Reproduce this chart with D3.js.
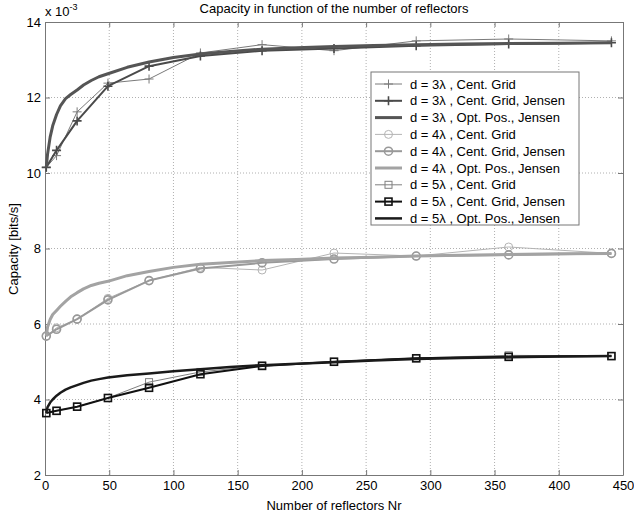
<!DOCTYPE html>
<html>
<head>
<meta charset="utf-8">
<script src="https://cdn.jsdelivr.net/npm/d3@7"></script>
<style>
  body { margin: 0; background: #fff; }
  svg { font-family: "Liberation Sans", Arial, sans-serif; }
</style>
</head>
<body>
<svg id="chart" width="634" height="518"></svg>
<script>
// grid positions (number of reflectors, N x N)
var gridNr = [1, 9, 25, 49, 81, 121, 169, 225, 289, 361, 441];
// optimised positions evaluated more densely
var optNr = [1, 2, 4, 6, 9, 12, 16, 20, 25, 30, 36, 42, 49, 64, 81, 100, 121, 144, 169, 196, 225, 256, 289, 324, 361, 400, 441];

// capacities, in units of 1e-3
var d3Grid   = [10.15, 10.46, 11.62, 12.38, 12.49, 13.18, 13.4, 13.24, 13.5, 13.55, 13.5];
var d3Jensen = [10.15, 10.6, 11.38, 12.3, 12.83, 13.1, 13.24, 13.3, 13.37, 13.42, 13.45];
var d3Opt    = [10.15, 10.5, 10.95, 11.25, 11.55, 11.78, 11.97, 12.08, 12.2, 12.33, 12.45, 12.55, 12.63, 12.8, 12.94, 13.06, 13.15, 13.22, 13.28, 13.32, 13.35, 13.38, 13.4, 13.42, 13.43, 13.44, 13.45];

var d4Grid   = [5.68, 5.9, 6.13, 6.68, 7.15, 7.5, 7.43, 7.88, 7.8, 8.04, 7.87];
var d4Jensen = [5.68, 5.86, 6.13, 6.64, 7.15, 7.47, 7.62, 7.72, 7.8, 7.83, 7.87];
var d4Opt    = [5.68, 5.92, 6.12, 6.25, 6.36, 6.47, 6.6, 6.72, 6.83, 6.93, 7.02, 7.08, 7.13, 7.28, 7.39, 7.5, 7.58, 7.63, 7.68, 7.71, 7.75, 7.77, 7.8, 7.82, 7.84, 7.86, 7.87];

var d5Grid   = [3.64, 3.7, 3.81, 4.04, 4.46, 4.73, 4.9, 5.0, 5.1, 5.17, 5.15];
var d5Jensen = [3.64, 3.7, 3.81, 4.04, 4.31, 4.67, 4.89, 5.0, 5.09, 5.13, 5.15];
var d5Opt    = [3.64, 3.8, 3.92, 4.0, 4.1, 4.18, 4.26, 4.32, 4.38, 4.44, 4.5, 4.54, 4.58, 4.64, 4.69, 4.75, 4.8, 4.86, 4.91, 4.95, 4.99, 5.03, 5.07, 5.1, 5.12, 5.14, 5.15];

var xTicks = [0, 50, 100, 150, 200, 250, 300, 350, 400, 450];
var yTicks = [2, 4, 6, 8, 10, 12, 14];

var series = [
    {label: "d = 3\u03bb , Cent. Grid", x: gridNr, y: d3Grid, color: "#7a7a7a", width: 1, marker: "plus"},
    {label: "d = 3\u03bb , Cent. Grid, Jensen", x: gridNr, y: d3Jensen, color: "#4a4a4a", width: 2, marker: "plus"},
    {label: "d = 3\u03bb , Opt. Pos., Jensen", x: optNr, y: d3Opt, color: "#555555", width: 3, marker: null},
    {label: "d = 4\u03bb , Cent. Grid", x: gridNr, y: d4Grid, color: "#b4b4b4", width: 1, marker: "circle"},
    {label: "d = 4\u03bb , Cent. Grid, Jensen", x: gridNr, y: d4Jensen, color: "#999999", width: 2, marker: "circle"},
    {label: "d = 4\u03bb , Opt. Pos., Jensen", x: optNr, y: d4Opt, color: "#a3a3a3", width: 3, marker: null},
    {label: "d = 5\u03bb , Cent. Grid", x: gridNr, y: d5Grid, color: "#808080", width: 1, marker: "square"},
    {label: "d = 5\u03bb , Cent. Grid, Jensen", x: gridNr, y: d5Jensen, color: "#111111", width: 2, marker: "square"},
    {label: "d = 5\u03bb , Opt. Pos., Jensen", x: optNr, y: d5Opt, color: "#1a1a1a", width: 2.5, marker: null}
];

var margin = {left: 45, right: 11, top: 22, bottom: 43};
var W = 634, H = 518;
var svg = d3.select("#chart");

var x = d3.scaleLinear().domain([0, 450]).range([margin.left, W - margin.right]);
var y = d3.scaleLinear().domain([2, 14]).range([H - margin.bottom, margin.top]);

// grid
var grid = svg.append("g").attr("stroke", "#b0b0b0").attr("stroke-dasharray", "1,2").attr("stroke-width", 1);
xTicks.slice(1, -1).forEach(t => {
    grid.append("line").attr("x1", x(t)).attr("x2", x(t)).attr("y1", y(2)).attr("y2", y(14));
});
yTicks.slice(1, -1).forEach(t => {
    grid.append("line").attr("x1", x(0)).attr("x2", x(450)).attr("y1", y(t)).attr("y2", y(t));
});

// axes (inward ticks, MATLAB style)
var axisColor = "#777";
svg.append("g").attr("transform", `translate(0,${y(2)})`)
    .call(d3.axisBottom(x).tickValues(xTicks).tickSizeInner(-5).tickSizeOuter(0).tickPadding(6))
    .call(g => g.selectAll("text").attr("font-size", 13).attr("fill", "#000"));
svg.append("g").attr("transform", `translate(${x(0)},0)`)
    .call(d3.axisLeft(y).tickValues(yTicks).tickSizeInner(-5).tickSizeOuter(0).tickPadding(4))
    .call(g => g.selectAll("text").attr("font-size", 13).attr("fill", "#000"));
svg.append("g").attr("transform", `translate(0,${y(14)})`)
    .call(d3.axisTop(x).tickValues(xTicks).tickSizeInner(-5).tickSizeOuter(0).tickFormat(""));
svg.append("g").attr("transform", `translate(${x(450)},0)`)
    .call(d3.axisRight(y).tickValues(yTicks).tickSizeInner(-5).tickSizeOuter(0).tickFormat(""));
svg.selectAll(".domain, .tick line").attr("stroke", axisColor);

// lines
var line = d3.line().x(d => x(d[0])).y(d => y(d[1]));

function drawMarker(g, type, cx, cy, color, sw) {
    sw = Math.min(sw, 1.6);
    if (type == "plus") {
        g.append("path").attr("d", `M${cx-4.5},${cy}H${cx+4.5}M${cx},${cy-4.5}V${cy+4.5}`)
            .attr("stroke", color).attr("stroke-width", sw).attr("fill", "none");
    } else if (type == "circle") {
        g.append("circle").attr("cx", cx).attr("cy", cy).attr("r", 4)
            .attr("stroke", color).attr("stroke-width", sw).attr("fill", "none");
    } else if (type == "square") {
        g.append("rect").attr("x", cx - 3.5).attr("y", cy - 3.5).attr("width", 7).attr("height", 7)
            .attr("stroke", color).attr("stroke-width", sw).attr("fill", "none");
    }
}

var plot = svg.append("g");
series.forEach(s => {
    var pts = s.x.map((v, i) => [v, s.y[i]]);
    plot.append("path").datum(pts).attr("d", line)
        .attr("fill", "none").attr("stroke", s.color).attr("stroke-width", s.width)
        .attr("stroke-linejoin", "round");
    if (s.marker) {
        pts.forEach(p => drawMarker(plot, s.marker, x(p[0]), y(p[1]), s.color, s.width));
    }
});

// legend
var lg = svg.append("g").attr("transform", "translate(371,72)");
lg.append("rect").attr("width", 208).attr("height", 153)
    .attr("fill", "#fff").attr("stroke", "#777").attr("stroke-width", 1);
series.forEach((s, i) => {
    var ly = 12 + i * 16.8;
    lg.append("line").attr("x1", 4).attr("x2", 31).attr("y1", ly).attr("y2", ly)
        .attr("stroke", s.color).attr("stroke-width", s.width);
    if (s.marker) drawMarker(lg, s.marker, 17.5, ly, s.color, s.width);
    lg.append("text").attr("x", 39).attr("y", ly + 4.5).attr("font-size", 13).text(s.label);
});

// titles
svg.append("text").attr("x", 334).attr("y", 13).attr("text-anchor", "middle")
    .attr("font-size", 13).text("Capacity in function of the number of reflectors");
svg.append("text").attr("x", 334).attr("y", 510).attr("text-anchor", "middle")
    .attr("font-size", 13).text("Number of reflectors Nr");
svg.append("text").attr("transform", "translate(18,249) rotate(-90)").attr("text-anchor", "middle")
    .attr("font-size", 13).text("Capacity [bits/s]");
var ex = svg.append("text").attr("x", 45).attr("y", 16).attr("font-size", 13);
ex.append("tspan").text("x 10");
ex.append("tspan").attr("dy", -6).attr("font-size", 9).text("-3");
</script>
</body>
</html>
